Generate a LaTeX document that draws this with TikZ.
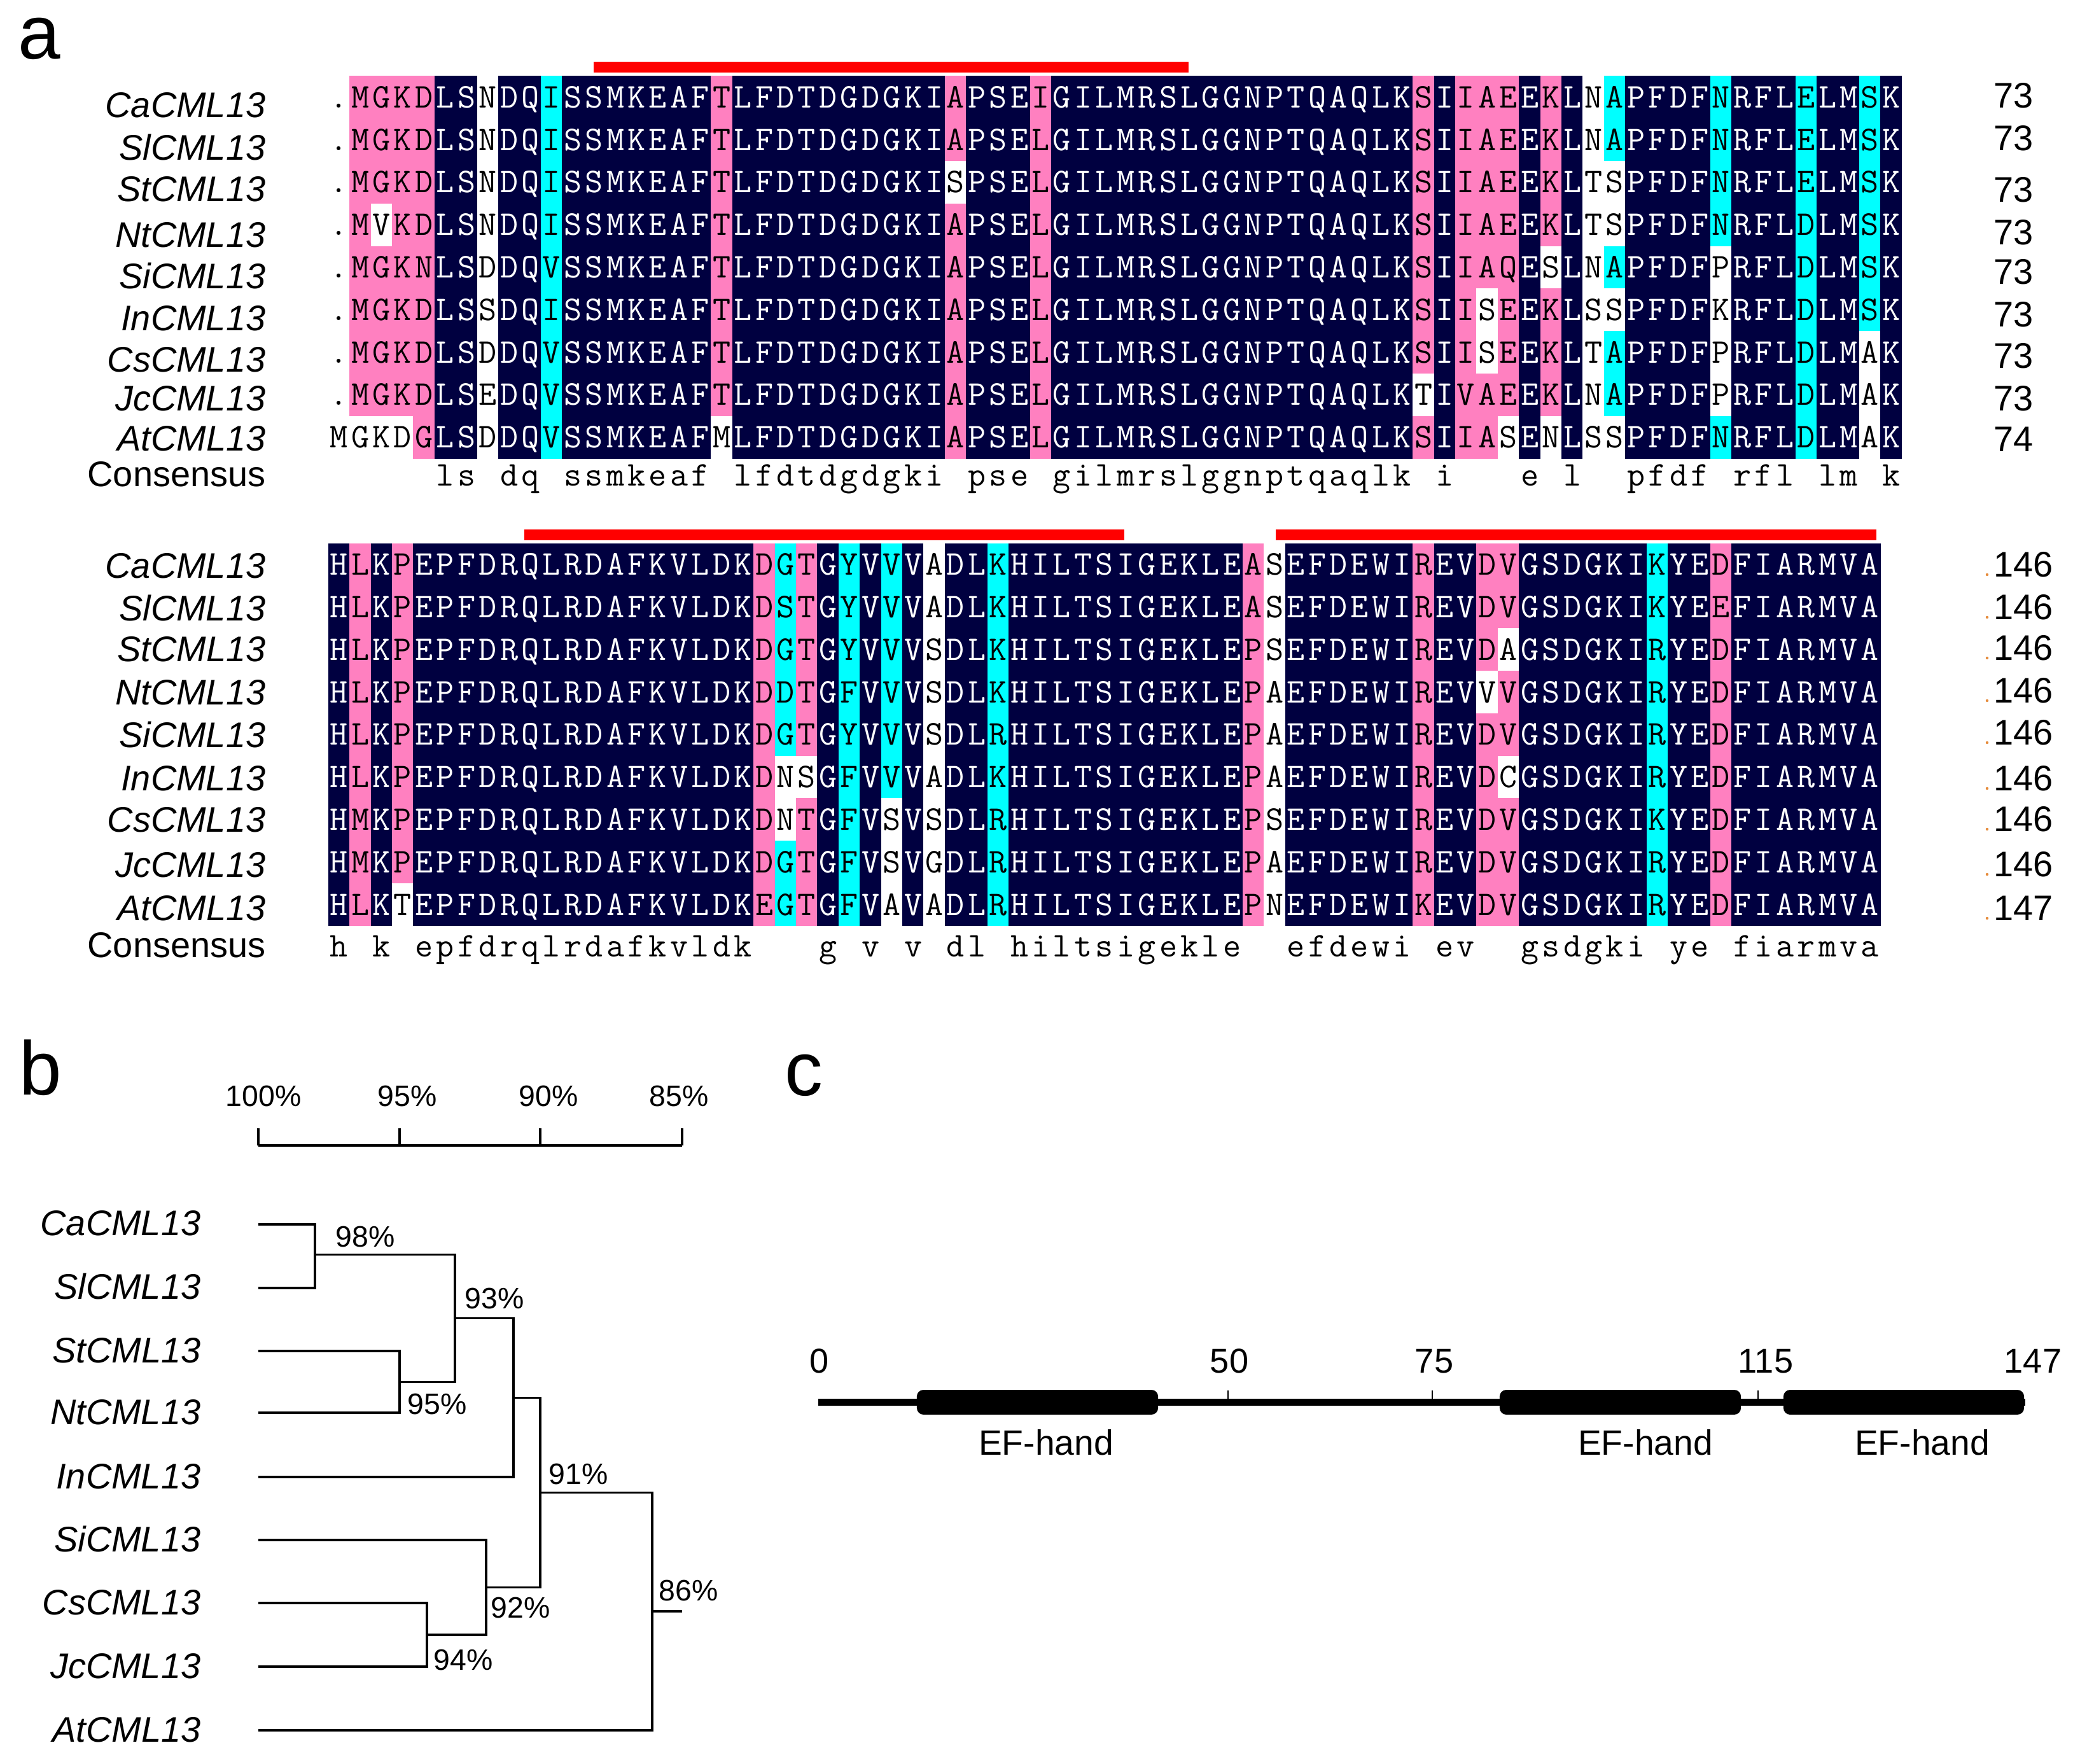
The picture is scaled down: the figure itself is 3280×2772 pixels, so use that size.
\documentclass[tikz,border=0pt]{standalone}
\usepackage{fontspec}
\setmainfont{Liberation Sans}
\usepackage{xcolor}
\definecolor{idcol} {RGB}{0,0,64}
\definecolor{hicol} {RGB}{255,128,192}
\definecolor{mdcol} {RGB}{0,255,255}
\definecolor{barcol}{RGB}{255,0,0}
\definecolor{dotcol}{RGB}{230,140,60}
\colorlet{alnbgd}{idcol}
\colorlet{alnbgp}{hicol}
\colorlet{alnbgc}{mdcol}
\colorlet{alnbgw}{white}
\colorlet{alnfgd}{white}
\colorlet{alnfgp}{black}
\colorlet{alnfgc}{black}
\colorlet{alnfgw}{black}
\tikzset{
  panlab/.style  ={font=\fontsize{34}{34}\selectfont, anchor=base west, inner sep=0pt},
  seqlab/.style  ={font=\itshape\fontsize{15.9}{16}\selectfont, anchor=base east, inner sep=0pt},
  conslab/.style ={font=\fontsize{15.9}{16}\selectfont, anchor=base east, inner sep=0pt},
  numlab/.style  ={font=\fontsize{15.9}{16}\selectfont, anchor=base west, inner sep=0pt},
  resid/.style   ={font=\ttfamily\fontsize{15.5}{15.5}\selectfont, anchor=base, inner sep=0pt},
  pctlab/.style  ={font=\fontsize{13.2}{13.2}\selectfont, anchor=base west, inner sep=0pt},
  treeline/.style={line width=1.1pt},
  efbox/.style   ={fill=black, rounded corners=3pt, minimum height=0.39cm, inner sep=0pt},
  poslab/.style  ={font=\fontsize{15.4}{15.4}\selectfont, anchor=base, inner sep=0pt},
  eflab/.style   ={font=\fontsize{15.7}{15.7}\selectfont, anchor=base, inner sep=0pt},
}
%% one alignment row: tag, top, residues, shading codes (d/p/c/w)
\newcount\alncol
\newcommand{\alnrow}[4]{\alncol=0 \def\alntag{#1}\def\alntop{#2}\alnstep#3\relax#4\relax}
\def\alnstep#1#2\relax#3#4\relax{%
  \advance\alncol by 1
  \pgfmathsetmacro\alnx{532.7+(\the\alncol-1)*33.42}%
  \fill[alnbg#3] (\alnx-17,\alntop) rectangle (\alnx+17,\alntop+67);
  \node[resid, text=alnfg#3] (\alntag-\the\alncol) at (\alnx,\alntop+50) {#1};
  \ifx\relax#2\relax\else\alnstep#2\relax#4\relax\fi}
%% consensus row: '-' leaves a column blank
\newcommand{\alncons}[3]{\alncol=0 \def\alntag{#1}\def\alntop{#2}\consstep#3\relax}
\def\consstep#1#2\relax{%
  \advance\alncol by 1
  \ifx-#1\else
    \pgfmathsetmacro\alnx{532.7+(\the\alncol-1)*33.42}%
    \node[resid] (\alntag-\the\alncol) at (\alnx,\alntop) {#1};
  \fi
  \ifx\relax#2\relax\else\consstep#2\relax\fi}

\begin{document}
\begin{tikzpicture}[x=0.01cm, y=-0.01cm]
\useasboundingbox (0,0) rectangle (3280,2772);

%% Panel a: alignment
\node[panlab] (pa) at (28,92) {a};

\fill[barcol] (933,97) rectangle (1868,114);

\alnrow{ar1}{119.3}{.MGKDLSNDQ ISSMKEAFTL FDTDGDGKIA PSEIGILMRS LGGNPTQAQL KSIIAEEKLN APFDFNRFLE LMSK}
  {wppppddwdd cdddddddpd dddddddddp dddpdddddd dddddddddd dpdpppdpdw cddddcdddc ddcd}
\alnrow{ar2}{186.1}{.MGKDLSNDQ ISSMKEAFTL FDTDGDGKIA PSELGILMRS LGGNPTQAQL KSIIAEEKLN APFDFNRFLE LMSK}
  {wppppddwdd cdddddddpd dddddddddp dddpdddddd dddddddddd dpdpppdpdw cddddcdddc ddcd}
\alnrow{ar3}{252.9}{.MGKDLSNDQ ISSMKEAFTL FDTDGDGKIS PSELGILMRS LGGNPTQAQL KSIIAEEKLT SPFDFNRFLE LMSK}
  {wppppddwdd cdddddddpd dddddddddw dddpdddddd dddddddddd dpdpppdpdw wddddcdddc ddcd}
\alnrow{ar4}{319.7}{.MVKDLSNDQ ISSMKEAFTL FDTDGDGKIA PSELGILMRS LGGNPTQAQL KSIIAEEKLT SPFDFNRFLD LMSK}
  {wpwppddwdd cdddddddpd dddddddddp dddpdddddd dddddddddd dpdpppdpdw wddddcdddc ddcd}
\alnrow{ar5}{386.5}{.MGKNLSDDQ VSSMKEAFTL FDTDGDGKIA PSELGILMRS LGGNPTQAQL KSIIAQESLN APFDFPRFLD LMSK}
  {wppppddwdd cdddddddpd dddddddddp dddpdddddd dddddddddd dpdpppdwdw cddddwdddc ddcd}
\alnrow{ar6}{453.3}{.MGKDLSSDQ ISSMKEAFTL FDTDGDGKIA PSELGILMRS LGGNPTQAQL KSIISEEKLS SPFDFKRFLD LMSK}
  {wppppddwdd cdddddddpd dddddddddp dddpdddddd dddddddddd dpdpwpdpdw wddddwdddc ddcd}
\alnrow{ar7}{520.1}{.MGKDLSDDQ VSSMKEAFTL FDTDGDGKIA PSELGILMRS LGGNPTQAQL KSIISEEKLT APFDFPRFLD LMAK}
  {wppppddwdd cdddddddpd dddddddddp dddpdddddd dddddddddd dpdpwpdpdw cddddwdddc ddwd}
\alnrow{ar8}{586.9}{.MGKDLSEDQ VSSMKEAFTL FDTDGDGKIA PSELGILMRS LGGNPTQAQL KTIVAEEKLN APFDFPRFLD LMAK}
  {wppppddwdd cdddddddpd dddddddddp dddpdddddd dddddddddd dwdpppdpdw cddddwdddc ddwd}
\alnrow{ar9}{653.7}{MGKDGLSDDQ VSSMKEAFML FDTDGDGKIA PSELGILMRS LGGNPTQAQL KSIIASENLS SPFDFNRFLD LMAK}
  {wwwwpddwdd cdddddddwd dddddddddp dddpdddddd dddddddddd dpdppwdwdw wddddcdddc ddwd}
\alncons{ac}{763}{-----ls-dq -ssmkeaf-l fdtdgdgki- pse-gilmrs lggnptqaql k-i---e-l- -pfdf-rfl- lm-k}

\foreach \nm/\yb [count=\i] in {CaCML13/184, SlCML13/251, StCML13/316, NtCML13/388,
    SiCML13/453, InCML13/519, CsCML13/584, JcCML13/645, AtCML13/708}
  \node[seqlab] (la\i) at (418,\yb) {\nm};
\node[conslab] (lac) at (418,764) {Consensus};
\foreach \n/\yb [count=\i] in {73/169, 73/236, 73/317, 73/384, 73/446, 73/513, 73/578, 73/645, 74/709}
  \node[numlab] (na\i) at (3133,\yb) {\n};

\fill[barcol] (824,832) rectangle (1767,849);
\fill[barcol] (2005,832) rectangle (2949,849);

\alnrow{br1}{853.6}{HLKPEPFDRQ LRDAFKVLDK DGTGYVVVAD LKHILTSIGE KLEASEFDEW IREVDVGSDG KIKYEDFIAR MVA}
  {dpdpdddddd dddddddddd pcpdcdcdwd dcdddddddd dddpwddddd dpddppdddd ddcddpdddd ddd}
\alnrow{br2}{920.4}{HLKPEPFDRQ LRDAFKVLDK DSTGYVVVAD LKHILTSIGE KLEASEFDEW IREVDVGSDG KIKYEEFIAR MVA}
  {dpdpdddddd dddddddddd pcpdcdcdwd dcdddddddd dddpwddddd dpddppdddd ddcddpdddd ddd}
\alnrow{br3}{987.2}{HLKPEPFDRQ LRDAFKVLDK DGTGYVVVSD LKHILTSIGE KLEPSEFDEW IREVDAGSDG KIRYEDFIAR MVA}
  {dpdpdddddd dddddddddd pcpdcdcdwd dcdddddddd dddpwddddd dpddpwdddd ddcddpdddd ddd}
\alnrow{br4}{1054.0}{HLKPEPFDRQ LRDAFKVLDK DDTGFVVVSD LKHILTSIGE KLEPAEFDEW IREVVVGSDG KIRYEDFIAR MVA}
  {dpdpdddddd dddddddddd pcpdcdcdwd dcdddddddd dddpwddddd dpddwpdddd ddcddpdddd ddd}
\alnrow{br5}{1120.8}{HLKPEPFDRQ LRDAFKVLDK DGTGYVVVSD LRHILTSIGE KLEPAEFDEW IREVDVGSDG KIRYEDFIAR MVA}
  {dpdpdddddd dddddddddd pcpdcdcdwd dcdddddddd dddpwddddd dpddppdddd ddcddpdddd ddd}
\alnrow{br6}{1187.6}{HLKPEPFDRQ LRDAFKVLDK DNSGFVVVAD LKHILTSIGE KLEPAEFDEW IREVDCGSDG KIRYEDFIAR MVA}
  {dpdpdddddd dddddddddd pwwdcdcdwd dcdddddddd dddpwddddd dpddpwdddd ddcddpdddd ddd}
\alnrow{br7}{1254.4}{HMKPEPFDRQ LRDAFKVLDK DNTGFVSVSD LRHILTSIGE KLEPSEFDEW IREVDVGSDG KIKYEDFIAR MVA}
  {dpdpdddddd dddddddddd pwpdcdwdwd dcdddddddd dddpwddddd dpddppdddd ddcddpdddd ddd}
\alnrow{br8}{1321.2}{HMKPEPFDRQ LRDAFKVLDK DGTGFVSVGD LRHILTSIGE KLEPAEFDEW IREVDVGSDG KIRYEDFIAR MVA}
  {dpdpdddddd dddddddddd pcpdcdwdwd dcdddddddd dddpwddddd dpddppdddd ddcddpdddd ddd}
\alnrow{br9}{1388.0}{HLKTEPFDRQ LRDAFKVLDK EGTGFVAVAD LRHILTSIGE KLEPNEFDEW IKEVDVGSDG KIRYEDFIAR MVA}
  {dpdwdddddd dddddddddd pcpdcdwdwd dcdddddddd dddpwddddd dpddppdddd ddcddpdddd ddd}
\alncons{bc}{1503}{h-k-epfdrq lrdafkvldk ---g-v-v-d l-hiltsige kle--efdew i-ev--gsdg ki-ye-fiar mva}

\foreach \nm/\yb [count=\i] in {CaCML13/908, SlCML13/975, StCML13/1039, NtCML13/1107,
    SiCML13/1174, InCML13/1242, CsCML13/1307, JcCML13/1378, AtCML13/1446}
  \node[seqlab] (lb\i) at (418,\yb) {\nm};
\node[conslab] (lbc) at (418,1504) {Consensus};
\foreach \n/\yb [count=\i] in {146/906, 146/973, 146/1037, 146/1104, 146/1170,
    146/1242, 146/1306, 146/1377, 147/1446}{
  \node[numlab] (nb\i) at (3133,\yb) {\n};
  \fill[dotcol] (3123,\yb-3) circle (2.2);
}

%% Panel b: tree
\node[panlab] (pb) at (30,1720) {b};
\coordinate (s100) at (406,1800);
\coordinate (s95)  at (628,1800);
\coordinate (s90)  at (849,1800);
\coordinate (s85)  at (1072,1800);
\draw[treeline] (s100) -- (s85);
\foreach \c in {s100,s95,s90,s85}
  \draw[treeline] (\c) -- ++(0,-27);
\node[pctlab, anchor=base] (k100) at (414,1738)  {100\%};
\node[pctlab, anchor=base] (k95)  at (640,1738)  {95\%};
\node[pctlab, anchor=base] (k90)  at (862,1738)  {90\%};
\node[pctlab, anchor=base] (k85)  at (1067,1738) {85\%};

\foreach \nm/\y in {Ca/1923.6, Sl/2023.8, St/2123, Nt/2220, In/2321,
    Si/2420, Cs/2519, Jc/2619, At/2719}{
  \coordinate (t\nm) at (406,\y);
  \node[seqlab] (lt\nm) at (316,\y+18) {\nm CML13};
}
\coordinate (n98) at (495,1971.5);
\coordinate (n95) at (628,2171.5);
\coordinate (n93) at (715,2071.5);
\coordinate (nIn) at (807,2196.5);
\coordinate (n94) at (671,2569);
\coordinate (n92) at (764,2494.5);
\coordinate (n91) at (849,2345.5);
\coordinate (n86) at (1025,2532);
\coordinate (root) at (1072,2532);

\draw[treeline] (tCa) -| (n98) |- (tSl);
\draw[treeline] (tSt) -| (n95) |- (tNt);
\draw[treeline] (n98) -| (n93) |- (n95);
\draw[treeline] (n93) -| (nIn) |- (tIn);
\draw[treeline] (tCs) -| (n94) |- (tJc);
\draw[treeline] (tSi) -| (n92) |- (n94);
\draw[treeline] (nIn) -| (n91) |- (n92);
\draw[treeline] (n91) -| (n86) |- (tAt);
\draw[treeline] (n86) -- (root);

\node[pctlab] (p98) at (527,1959)  {98\%};
\node[pctlab] (p93) at (730,2056)  {93\%};
\node[pctlab] (p95) at (640,2222)  {95\%};
\node[pctlab] (p91) at (862,2332)  {91\%};
\node[pctlab] (p92) at (771,2542)  {92\%};
\node[pctlab] (p94) at (681,2624)  {94\%};
\node[pctlab] (p86) at (1035,2515) {86\%};

%% Panel c: domains
\node[panlab] (pc) at (1233,1721) {c};
\coordinate (d0)   at (1286,2203.5);
\coordinate (d147) at (3183,2203.5);
\draw[line width=3pt] (d0) -- (d147);
\node[efbox, minimum width=3.79cm] (ef1) at (1630.5,2203.5) {};
\node[efbox, minimum width=3.79cm] (ef2) at (2546.5,2203.5) {};
\node[efbox, minimum width=3.78cm] (ef3) at (2992,2203.5)   {};
\foreach \x in {1930,2251,2763}
  \draw[line width=0.6pt] (\x,2203.5) -- (\x,2185);
\foreach \x/\t in {1288/0, 1932/50, 2254/75, 2775/115, 3195/147}
  \node[poslab] (m\t) at (\x,2157) {\t};
\node[eflab] (e1) at (1644,2286) {EF-hand};
\node[eflab] (e2) at (2586,2286) {EF-hand};
\node[eflab] (e3) at (3021,2286) {EF-hand};

\end{tikzpicture}
\end{document}
